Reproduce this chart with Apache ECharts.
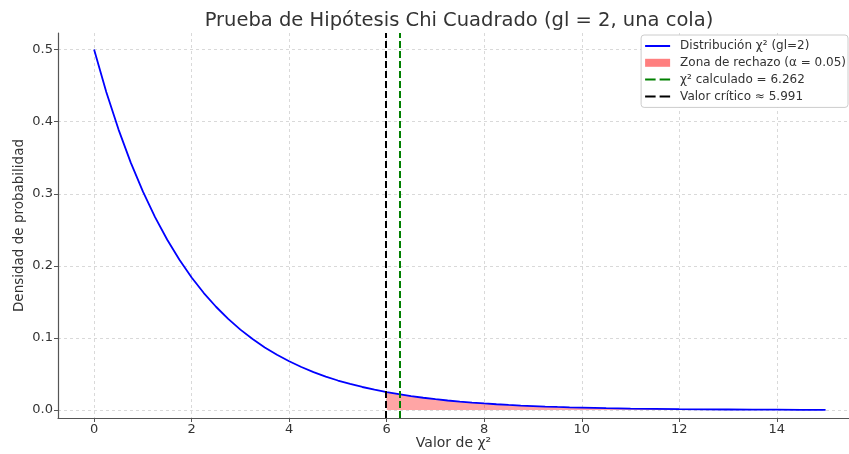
<!DOCTYPE html>
<html><head><meta charset="utf-8">
<script src="https://cdn.jsdelivr.net/npm/echarts@6/dist/echarts.min.js"></script>
<style>html,body{margin:0;padding:0;background:#fff}#c{width:849px;height:454px}</style>
</head><body><div id="c"></div>
<script>
const titleText = 'Prueba de Hipótesis Chi Cuadrado (gl = 2, una cola)';
const xName = 'Valor de χ²';
const yName = 'Densidad de probabilidad';
const xTicks = [0, 2, 4, 6, 8, 10, 12, 14];
const yTicks = [0, 0.1, 0.2, 0.3, 0.4, 0.5];
const chiX = [0,0.25,0.5,0.75,1,1.25,1.5,1.75,2,2.25,2.5,2.75,3,3.25,3.5,3.75,4,4.25,4.5,4.75,5,5.25,5.5,5.75,6,6.25,6.5,6.75,7,7.25,7.5,7.75,8,8.25,8.5,8.75,9,9.25,9.5,9.75,10,10.5,11,11.5,12,12.5,13,13.5,14,14.5,15];
const chiY = [0.5,0.4412,0.3894,0.3436,0.3033,0.2676,0.2362,0.2084,0.1839,0.1623,0.1433,0.1264,0.1116,0.0985,0.0869,0.0767,0.0677,0.0597,0.0527,0.0465,0.0410,0.0362,0.0320,0.0282,0.0249,0.0220,0.0194,0.0171,0.0151,0.0133,0.0118,0.0104,0.0092,0.0081,0.0071,0.0063,0.0056,0.0049,0.0043,0.0038,0.0034,0.0026,0.0020,0.0016,0.0012,0.0010,0.0008,0.0006,0.0005,0.0004,0.0003];
const critical = 5.991;
const critY = 0.0250;
const calculated = 6.262;
const seriesNames = ['Distribución χ² (gl=2)', 'Zona de rechazo (α = 0.05)', 'χ² calculado = 6.262', 'Valor crítico ≈ 5.991'];

const curve = chiX.map((x, i) => [x, chiY[i]]);
const reject = [[critical, critY]].concat(curve.filter(p => p[0] > critical));

const dashIcon = 'path://M0,0 L10.5,0 L10.5,2 L0,2 Z M14.5,0 L25,0 L25,2 L14.5,2 Z';
const font = 'DejaVu Sans';
const chart = echarts.init(document.getElementById('c'), null, {renderer: 'canvas'});
chart.setOption({
  animation: false,
  title: {text: titleText, left: 454, textAlign: 'center', top: 6,
    textStyle: {fontFamily: font, fontSize: 19.5, fontWeight: 'normal', color: '#333'}},
  grid: {left: 58, right: 0, top: 33, bottom: 36, containLabel: false, outerBoundsMode: 'none'},
  legend: {
    orient: 'vertical', right: 1, top: 35, padding: [5, 2, 5, 4], itemGap: 4.8,
    itemWidth: 25, itemHeight: 10, backgroundColor: '#fff', borderColor: '#ccc', borderWidth: 1, borderRadius: 3,
    textStyle: {fontFamily: font, fontSize: 12, color: '#333', padding: [0, 0, 0, 5]},
    data: [
      {name: seriesNames[0], icon: 'path://M0,0 L25,0 L25,2 L0,2 Z', itemStyle: {color: '#0000ff'}},
      {name: seriesNames[1], icon: 'path://M0,0 L25,0 L25,8 L0,8 Z', itemStyle: {color: 'rgba(255,0,0,0.5)'}},
      {name: seriesNames[2], icon: dashIcon, itemStyle: {color: '#008000'}},
      {name: seriesNames[3], icon: dashIcon, itemStyle: {color: '#000'}}
    ]
  },
  xAxis: {
    type: 'value', min: -0.74, max: 15.48,
    name: xName, nameLocation: 'middle', nameGap: 18, nameMoveOverlap: false,
    nameTextStyle: {fontFamily: font, fontSize: 14, color: '#333'},
    axisLine: {show: true, onZero: false, lineStyle: {color: '#555', width: 1.2}},
    axisTick: {show: true, length: 4, customValues: xTicks, lineStyle: {color: '#555'}},
    axisLabel: {customValues: xTicks, fontFamily: font, fontSize: 13, color: '#333', margin: 5},
    splitLine: {show: true, lineStyle: {color: '#d0d0d0', type: [3, 3], width: 0.8}}
  },
  yAxis: {
    type: 'value', min: -0.011, max: 0.523,
    name: yName, nameLocation: 'middle', nameGap: 32, nameRotate: 90, nameMoveOverlap: false,
    nameTextStyle: {fontFamily: font, fontSize: 13.5, color: '#333'},
    axisLine: {show: true, onZero: false, lineStyle: {color: '#555', width: 1.2}},
    axisTick: {show: true, length: 4, customValues: yTicks, lineStyle: {color: '#555'}},
    axisLabel: {customValues: yTicks, fontFamily: font, fontSize: 13, color: '#333', margin: 5,
      formatter: v => v.toFixed(1)},
    splitLine: {show: true, lineStyle: {color: '#d0d0d0', type: [3, 3], width: 0.8}}
  },
  series: [
    {name: seriesNames[1], type: 'line', data: reject, symbol: 'none',
      lineStyle: {width: 0}, areaStyle: {color: 'rgba(255,0,0,0.5)', origin: 0}, z: 2},
    {name: seriesNames[0], type: 'line', data: curve, symbol: 'none',
      lineStyle: {color: '#0000ff', width: 1.8}, itemStyle: {color: '#0000ff'}, z: 3},
    {name: seriesNames[2], type: 'line', data: [], itemStyle: {color: '#008000'},
      markLine: {silent: true, symbol: 'none', label: {show: false},
        lineStyle: {color: '#008000', type: [7, 3], width: 2}, data: [{xAxis: calculated}]}, z: 4},
    {name: seriesNames[3], type: 'line', data: [], itemStyle: {color: '#000'},
      markLine: {silent: true, symbol: 'none', label: {show: false},
        lineStyle: {color: '#000', type: [7, 3], width: 2}, data: [{xAxis: critical}]}, z: 4}
  ]
});
</script></body></html>
